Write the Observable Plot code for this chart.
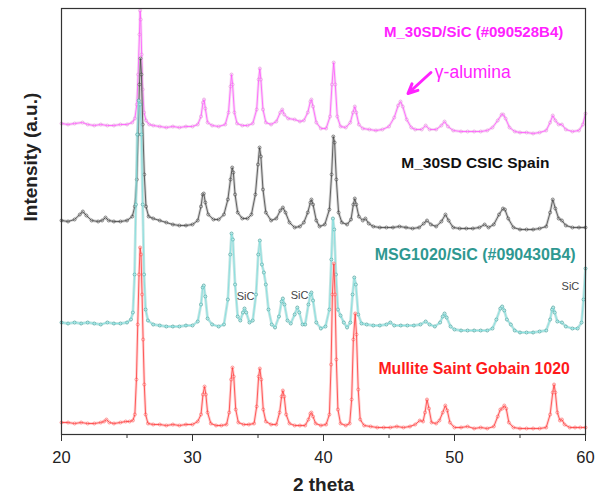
<!DOCTYPE html>
<html><head><meta charset="utf-8">
<script src="https://cdn.jsdelivr.net/npm/d3@7"></script>
<script src="https://cdn.jsdelivr.net/npm/@observablehq/plot@0.6"></script>
<style>body{margin:0;background:#fff}</style>
</head><body><div id="chart"></div>
<script>
// 2-theta positions (deg) and stacked intensities (a.u., offset included)
const pinkX = [20.0,20.5,21.0,21.6,22.0,22.5,23.0,23.5,24.0,24.5,25.0,25.4,25.6,25.75,25.85,25.95,26.0,26.05,26.12,26.2,26.3,26.45,26.7,27.0,27.5,28.0,28.5,29.0,29.5,30.0,30.4,30.65,30.8,30.88,30.98,31.15,31.5,32.0,32.5,32.75,32.9,32.98,33.06,33.2,33.4,33.8,34.2,34.6,34.9,35.05,35.14,35.22,35.38,35.6,36.0,36.4,36.7,36.85,37.0,37.3,37.8,38.2,38.5,38.8,39.0,39.08,39.2,39.45,39.8,40.2,40.5,40.65,40.78,40.9,41.05,41.3,41.7,42.05,42.25,42.39,42.5,42.7,43.0,43.5,44.0,44.5,45.0,45.4,45.7,45.88,46.05,46.35,46.7,47.0,47.5,47.8,48.1,48.6,49.0,49.24,49.5,49.9,50.5,51.0,51.5,52.0,52.5,52.9,53.3,53.6,53.72,53.9,54.2,54.6,55.0,55.5,56.0,56.5,57.0,57.3,57.5,57.7,57.95,58.2,58.5,59.0,59.5,59.8,60.0];
const pinkY = [311,310,311,312,310,309,310,309,309,310,310,312,316,330,360,400,424,415,380,345,322,314,310,309,308,307,308,307,308,308,310,318,332,335,326,312,309,308,310,322,348,360,350,322,311,309,309,311,325,355,366,355,325,312,310,313,322,325,320,316,315,313,314,322,333,335,328,312,306,306,318,350,372,350,318,308,307,312,322,328,322,310,306,305,304,305,308,317,329,333,328,315,307,305,305,309,305,305,309,313,308,304,303,303,303,303,304,307,314,320,320,316,307,303,302,302,301,302,304,312,319,314,310,310,305,303,304,310,321];

const blackX = [20.0,20.5,21.0,21.4,21.63,21.9,22.3,22.8,23.1,23.36,23.6,24.0,24.5,25.0,25.4,25.6,25.75,25.85,25.95,26.03,26.1,26.2,26.32,26.45,26.65,27.0,27.5,28.0,28.5,29.0,29.5,30.0,30.4,30.65,30.78,30.86,30.98,31.2,31.6,32.0,32.4,32.7,32.9,33.03,33.12,33.25,33.45,33.8,34.2,34.5,34.8,35.0,35.12,35.22,35.38,35.6,36.0,36.4,36.7,36.9,37.1,37.4,37.8,38.2,38.5,38.8,39.0,39.08,39.2,39.45,39.7,40.1,40.45,40.62,40.75,40.85,40.98,41.15,41.4,41.8,42.1,42.28,42.39,42.5,42.7,43.0,43.2,43.45,43.8,44.3,44.8,45.3,45.8,46.3,46.8,47.3,47.65,47.9,48.2,48.6,49.0,49.31,49.55,49.9,50.4,50.9,51.4,51.9,52.3,52.6,53.0,53.4,53.7,53.85,54.1,54.5,55.0,55.5,56.0,56.5,57.0,57.3,57.5,57.7,57.95,58.2,58.5,59.0,59.5,60.0];
const blackY = [214,213,215,220,223,219,214,213,214,217,214,213,213,214,218,228,255,300,350,376,360,310,260,228,218,216,214,212,210,209,209,210,214,228,240,241,232,220,215,215,220,235,255,267,262,240,222,216,216,220,240,270,287,278,245,222,214,216,224,227,222,212,207,208,212,222,232,235,230,214,208,210,225,260,298,292,255,222,212,210,215,230,236,230,218,214,216,211,208,207,207,207,208,207,206,207,211,214,210,208,213,220,214,207,206,206,206,207,210,207,210,220,226,225,216,207,205,205,205,206,208,222,235,226,216,214,209,207,207,207];

const tealX = [20.0,20.5,21.0,21.5,22.0,22.5,23.0,23.5,24.0,24.5,25.0,25.3,25.45,25.58,25.68,25.78,25.9,26.0,26.1,26.2,26.3,26.42,26.6,27.0,27.5,28.0,28.5,29.0,29.5,30.0,30.4,30.65,30.78,30.86,30.98,31.15,31.5,32.0,32.4,32.7,32.88,32.98,33.08,33.25,33.45,33.65,33.85,33.97,34.1,34.35,34.6,34.85,35.02,35.14,35.3,35.45,35.6,35.8,36.05,36.3,36.6,36.8,36.9,37.02,37.25,37.5,37.8,38.0,38.15,38.4,38.6,38.85,39.0,39.08,39.2,39.45,39.8,40.15,40.45,40.6,40.72,40.82,40.95,41.1,41.3,41.55,41.8,42.05,42.22,42.35,42.47,42.65,42.9,43.3,43.8,44.3,44.8,45.1,45.4,45.9,46.4,46.9,47.4,47.8,48.1,48.5,48.9,49.1,49.24,49.4,49.7,50.0,50.5,51.0,51.5,52.0,52.5,52.9,53.2,53.5,53.64,53.8,54.0,54.3,54.6,55.0,55.5,56.0,56.5,57.0,57.3,57.45,57.53,57.65,57.85,58.2,58.5,59.0,59.4,59.7,59.85,60.0];
const tealY = [112,111,112,111,112,111,110,112,111,111,112,115,122,160,230,300,334,330,300,230,160,125,114,110,109,108,108,108,109,109,113,130,147,149,138,116,110,108,110,135,180,201,195,150,118,114,122,126,122,112,114,140,180,194,170,162,150,125,110,107,118,133,136,130,114,111,120,127,122,110,110,130,140,142,134,112,106,108,125,175,216,205,160,125,119,112,107,112,140,157,150,120,111,110,109,109,110,112,109,109,109,109,110,113,110,108,112,118,121,117,108,105,104,104,104,104,104,106,115,126,128,124,115,110,104,102,102,102,103,104,115,125,127,122,113,112,108,106,106,112,135,166];

const redX = [20.0,20.5,21.0,21.5,22.0,22.5,23.0,23.25,23.43,23.65,24.0,24.5,24.9,25.2,25.45,25.6,25.72,25.82,25.92,26.0,26.07,26.15,26.23,26.32,26.42,26.6,27.0,27.5,28.0,28.5,29.0,29.5,30.0,30.4,30.65,30.8,30.92,31.02,31.15,31.4,31.8,32.2,32.6,32.8,32.95,33.05,33.15,33.3,33.5,33.9,34.3,34.7,34.9,35.05,35.14,35.25,35.4,35.6,36.0,36.4,36.65,36.8,36.9,37.0,37.15,37.4,37.8,38.2,38.6,38.85,39.0,39.08,39.2,39.4,39.8,40.2,40.45,40.58,40.68,40.79,40.88,40.98,41.1,41.3,41.7,42.0,42.15,42.28,42.42,42.52,42.65,42.8,43.1,43.6,44.1,44.6,45.1,45.6,46.1,46.6,47.0,47.35,47.6,47.75,47.9,48.05,48.25,48.6,48.85,49.1,49.3,49.45,49.65,50.0,50.5,51.0,51.5,52.0,52.5,53.0,53.3,53.5,53.65,53.8,53.95,54.15,54.5,55.0,55.5,56.0,56.5,57.0,57.3,57.5,57.6,57.7,57.85,58.05,58.2,58.4,58.8,59.2,59.6,60.0];
const redY = [12,12,11,12,11,11,12,13,15,12,11,12,13,13,14,20,55,110,160,187,180,140,95,50,20,11,10,10,9,10,9,10,10,13,20,40,48,40,22,11,9,9,10,22,55,67,58,25,12,10,10,11,28,58,66,55,25,13,10,10,22,38,44,38,20,11,9,9,9,15,21,22,18,11,9,10,20,70,140,171,140,75,25,11,9,11,35,95,121,100,45,15,9,8,7,7,7,8,7,8,10,14,13,22,35,26,12,11,14,22,29,24,12,7,7,8,6,7,6,8,18,25,26,29,26,12,7,6,6,6,6,7,20,42,50,42,22,14,15,10,7,7,7,7];

const seriesNames = ["M_30SD/SiC (#090528B4)", "M_30SD CSIC Spain", "MSG1020/SiC (#090430B4)", "Mullite Saint Gobain 1020"];
const xTicks = [20, 30, 40, 50, 60];
const xMinorTicks = [25, 35, 45, 55];

const styles = [
  {band: "#f0b8ea", line: "#ff55ff", dot: "#e597dc", text: "#ff22ff"},
  {band: "#a8a8a8", line: "#444444", dot: "#5a5a5a", text: "#111111"},
  {band: "#8ccbc7", line: "#7fdede", dot: "#3f9f99", text: "#2f9891"},
  {band: "#ffaaaa", line: "#ff3a3a", dot: "#ff7070", text: "#ff1a1a"}
];
const xs = [pinkX, blackX, tealX, redX];
const ys = [pinkY, blackY, tealY, redY];
const tables = xs.map((arr, i) => arr.map((x, j) => ({x, y: ys[i][j]})));

// annotations (anchored in data coordinates)
const labels = [
  {text: seriesNames[0], x: 58.3, y: 402, anchor: "end", size: 15, weight: "bold", color: styles[0].text},
  {text: "γ-alumina", x: 48.5, y: 362, anchor: "start", size: 17.5, weight: "normal", color: "#ff22ff"},
  {text: seriesNames[1], x: 57.25, y: 271, anchor: "end", size: 15.5, weight: "bold", color: styles[1].text},
  {text: seriesNames[2], x: 59.25, y: 180, anchor: "end", size: 16, weight: "bold", color: styles[2].text},
  {text: seriesNames[3], x: 58.8, y: 66, anchor: "end", size: 15.8, weight: "bold", color: styles[3].text},
  {text: "SiC", x: 34.05, y: 138, anchor: "middle", size: 11, weight: "normal", color: "#444"},
  {text: "SiC", x: 38.17, y: 139, anchor: "middle", size: 11, weight: "normal", color: "#444"},
  {text: "SiC", x: 58.85, y: 148, anchor: "middle", size: 11, weight: "normal", color: "#444"}
];
const arrowAnn = [{x1: 48.2, y1: 362, x2: 46.45, y2: 341}];

const marks = [];
tables.forEach((t, i) => {
  marks.push(Plot.line(t, {x: "x", y: "y", stroke: styles[i].band, strokeWidth: 2.8, strokeOpacity: 0.5}));
  marks.push(Plot.dot(t, {x: "x", y: "y", r: 1.5, stroke: styles[i].dot, strokeWidth: 0.7, fill: "white", fillOpacity: 0.6}));
  marks.push(Plot.line(t, {x: "x", y: "y", stroke: styles[i].line, strokeWidth: 0.8}));
});
labels.forEach(l => {
  marks.push(Plot.text([l], {x: "x", y: "y", text: "text", textAnchor: l.anchor, fontSize: l.size, fontWeight: l.weight, fill: l.color}));
});
marks.push(Plot.arrow(arrowAnn, {x1: "x1", y1: "y1", x2: "x2", y2: "y2", stroke: "#ff22ff", strokeWidth: 3, headLength: 9, headAngle: 50}));
marks.push(Plot.frame({stroke: "#333", strokeWidth: 1.2}));
marks.push(Plot.axisX({ticks: xTicks, tickSize: 7, tickPadding: 10, fontSize: 16.5, label: null, stroke: "#333", fill: "#222"}));
marks.push(Plot.axisX({ticks: xMinorTicks, tickSize: 4, tickFormat: () => "", label: null, stroke: "#333"}));
marks.push(Plot.text(["2 theta"], {frameAnchor: "bottom", dy: 56, fontSize: 19, fontWeight: "bold", fill: "#222"}));
marks.push(Plot.text(["Intensity (a.u.)"], {frameAnchor: "left", dx: -31, rotate: -90, fontSize: 19, fontWeight: "bold", fill: "#222"}));

const chart = Plot.plot({
  width: 608, height: 504,
  marginLeft: 61, marginRight: 23, marginTop: 8, marginBottom: 70,
  x: {domain: [20, 60], axis: null},
  y: {domain: [0, 426], axis: null},
  style: {fontFamily: "'Liberation Sans', Arial, sans-serif", background: "white", overflow: "visible"},
  marks
});
document.getElementById("chart").appendChild(chart);
</script></body></html>
